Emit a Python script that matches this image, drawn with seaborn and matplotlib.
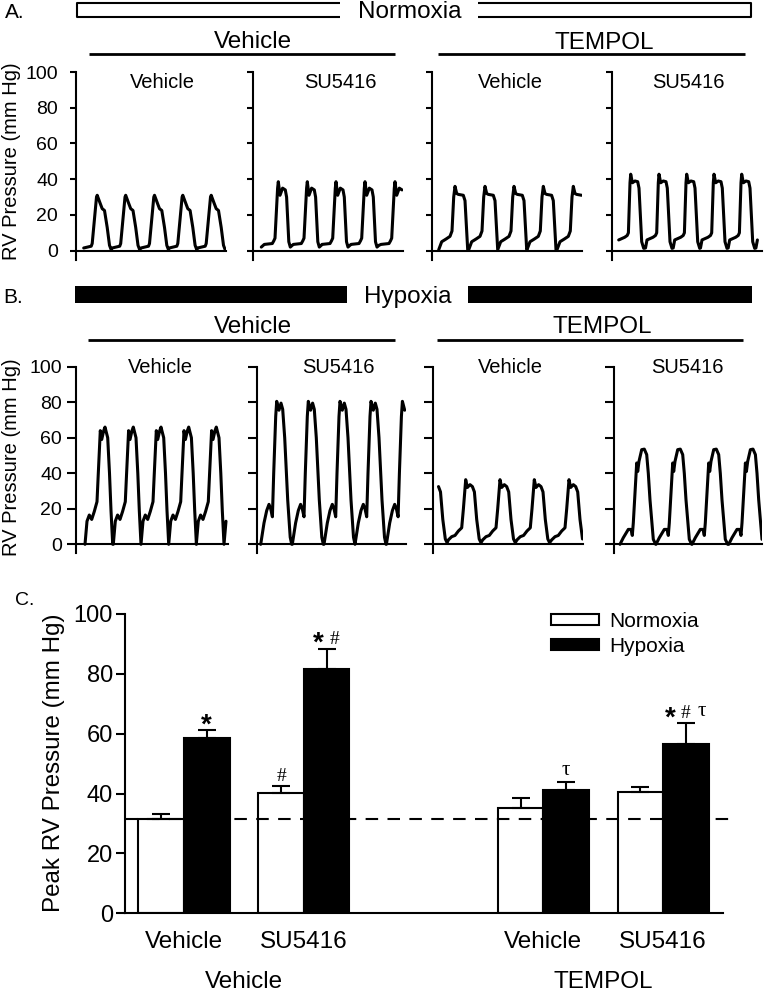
import numpy as np
import pandas as pd
import matplotlib
matplotlib.use("Agg")
import matplotlib.pyplot as plt
import matplotlib.transforms as mtransforms
from matplotlib.lines import Line2D
from matplotlib.patches import Rectangle, Patch
import seaborn as sns

sns.set_style("ticks", {"axes.edgecolor": "black", "xtick.color": "black",
                        "ytick.color": "black", "text.color": "black",
                        "axes.labelcolor": "black"})
plt.rcParams['font.family'] = ['Liberation Sans', 'DejaVu Sans']

#-----------------------------------------------------------------------------------
#   RV pressure traces (time = px from the y axis, pressure in mm Hg)
#   each trace = one beat shape, placed at each beat
#-----------------------------------------------------------------------------------

# A. Normoxia / Vehicle / Vehicle
nvv_peaks = [21.7, 50.2, 79.0, 107.3, 135.7]
nvv_beat_t = [-13.5, -6, -5, -0.7, 0, 3.3, 5, 7.3, 10, 12.3, 14]
nvv_beat_p = [1.5, 2.5, 4, 30, 31, 26, 23.5, 22.5, 13, 3, 0.5]
nvv_span = (7.7, 150.7)

# A. Normoxia / Vehicle / SU5416
nvs_peaks = [-3.4, 25.6, 54.6, 83.3, 112.3, 142.3]
nvs_beat_t = [-14, -6, -4.5, -3.3, -0.7, 0, 1.7, 4.3, 7, 8.3, 10.5, 12, 14]
nvs_beat_p = [3.5, 4, 5.5, 7, 35, 38.6, 31, 35, 34, 30, 5, 2, 3]
nvs_span = (7.3, 150.6)

# A. Normoxia / TEMPOL / Vehicle
ntv_peaks = [23.3, 53.3, 82.3, 111.6, 141.6]
ntv_beat_t = [-16.3, -13.3, -9, -5, -3, -1.3, 0, 1.7, 3.3, 8.3, 10, 12.7]
ntv_beat_p = [0.5, 5, 6.5, 8, 11, 30, 36, 32, 31.5, 31, 28, 0.5]
ntv_span = (6.3, 151.3)

# A. Normoxia / TEMPOL / SU5416
nts_peaks = [19.0, 47.3, 75.0, 102.3, 130.0, 157.7]
nts_beat_t = [-13.5, -12, -6, -3.5, -2.3, -0.7, 0, 1.7, 4.3, 7, 8.3, 11, 13]
nts_beat_p = [1.5, 6, 7.5, 8.5, 10, 38, 42.8, 38, 39, 38.6, 35, 5, 1.3]
nts_span = (6.5, 150)

# B. Hypoxia / Vehicle / Vehicle
hvv_peaks = [29.0, 57.3, 85.0, 112.7, 140.3, 168.0]
hvv_beat_t = [-20, -18, -15.7, -13.3, -10.7, -8, -6.7, -4.7, -3.3, -1.3, 0, 2.7, 4.5, 6, 7.7]
hvv_beat_p = [0, 13, 16.5, 14, 18.5, 24, 40, 64, 59, 64, 66, 60, 40, 19, 0]
hvv_span = (7.7, 151.7)

# B. Hypoxia / Vehicle / SU5416
hvs_peaks = [20.0, 51.6, 83.3, 114.3, 145.7]
hvs_beat_t = [-16, -12.7, -10, -7.7, -6, -4.3, -3, -1, 0, 2.3, 4.3, 6, 8, 11, 13.5, 15]
hvs_beat_p = [0, 12, 19, 22.5, 20, 15.5, 40, 72, 80.5, 75.5, 79.5, 76, 60, 25, 4, 0]
hvs_span = (4, 148.3)

# B. Hypoxia / TEMPOL / Vehicle
htv_peaks = [-1.5, 32.4, 66.7, 101.0, 135.7]
htv_beat_t = [-17.3, -14, -10.7, -7.3, -4, -2.3, 0, 1.7, 4.3, 6.7, 8.7, 11, 13.5, 15.3]
htv_beat_p = [2.5, 4.3, 5, 7.5, 9.3, 20, 36.4, 32, 33.6, 32.5, 29.5, 14, 3, 0.9]
htv_span = (4.5, 150)

# B. Hypoxia / TEMPOL / SU5416
hts_peaks = [29.0, 65.0, 101.0, 137.7]
hts_beat_t = [-23, -19.7, -14.7, -12, -10.7, -9.7, -6.3, -5.3, -4, -1.3, 1.3, 3.7, 5.3, 7, 10.3, 12.7]
hts_beat_p = [0, 3.7, 8.4, 8.4, 5, 12, 45.8, 41, 46.7, 53.3, 53.6, 50.5, 40, 25, 2.8, 0]
hts_span = (6, 149.3)

trace_titles = ['Vehicle', 'SU5416', 'Vehicle', 'SU5416']
pressure_ticks = [0, 20, 40, 60, 80, 100]

#-----------------------------------------------------------------------------------
#   C. peak RV pressure (mean, SEM)
#-----------------------------------------------------------------------------------
groups = ['Vehicle', 'SU5416', 'TEMPOL + Vehicle', 'TEMPOL + SU5416']
group_order = ['Vehicle', 'SU5416', '', 'TEMPOL + Vehicle', 'TEMPOL + SU5416']
tick_labels = ['Vehicle', 'SU5416', 'Vehicle', 'SU5416']
normoxia_mean = [31.5, 40.3, 35.2, 40.5]
normoxia_sem = [1.6, 2.2, 3.4, 1.8]
hypoxia_mean = [58.7, 81.5, 41.2, 56.5]
hypoxia_sem = [2.5, 6.8, 2.7, 7.0]
normoxia_marks = ['', '#', '', '']
hypoxia_marks = ['*', '* #', 'τ', '* # τ']
control_peak = 31.5

W, H = 767, 993
fig = plt.figure(figsize=(W / 100, H / 100), dpi=100)


def px_axes(x0, y0, w, h):
    return fig.add_axes([x0 / W, 1 - (y0 + h) / H, w / W, h / H])


def ftext(x, y, s, **kw):
    kw.setdefault('ha', 'center')
    kw.setdefault('va', 'baseline')
    fig.text(x / W, 1 - y / H, s, **kw)


def fline(xs, ys, lw=1.5):
    fig.add_artist(Line2D([x / W for x in xs], [1 - y / H for y in ys],
                          color='black', lw=lw, solid_capstyle='butt'))


def build(peaks, beat_t, beat_p, span):
    t = np.concatenate([np.asarray(beat_t) + pk for pk in peaks])
    p = np.tile(beat_p, len(peaks))
    keep = (t >= span[0]) & (t <= span[1])
    return t[keep], p[keep]


def trace_panel(x0, w, top, h, trace, show_labels, tick_len, tick_pad):
    ax = px_axes(x0, top, w, h)
    t, p = build(*trace)
    sns.lineplot(x=t, y=p, ax=ax, color='black', lw=2.2, sort=False, estimator=None)
    ax.set_xlim(0, w)
    ax.set_ylim(-5, 100)
    ax.set_yticks(pressure_ticks)
    ax.set_xticks([])
    ax.spines[['top', 'right']].set_visible(False)
    ax.spines['bottom'].set_position(('data', 0))
    for s in ax.spines.values():
        s.set_linewidth(1.5)
    ax.tick_params(axis='y', length=tick_len, width=1.5, pad=tick_pad, labelsize=14)
    if not show_labels:
        ax.set_yticklabels([])
    ax.set_xlabel('')
    ax.set_ylabel('')
    return ax


row_a = [(75.5, 150.5, (nvv_peaks, nvv_beat_t, nvv_beat_p, nvv_span)),
         (252.7, 150, (nvs_peaks, nvs_beat_t, nvs_beat_p, nvs_span)),
         (431.7, 150, (ntv_peaks, ntv_beat_t, ntv_beat_p, ntv_span)),
         (611.7, 150, (nts_peaks, nts_beat_t, nts_beat_p, nts_span))]
row_b = [(76, 152, (hvv_peaks, hvv_beat_t, hvv_beat_p, hvv_span)),
         (256.7, 149, (hvs_peaks, hvs_beat_t, hvs_beat_p, hvs_span)),
         (433.3, 150, (htv_peaks, htv_beat_t, htv_beat_p, htv_span)),
         (614, 148, (hts_peaks, hts_beat_t, hts_beat_p, hts_span))]

for i, (x0, w, tr) in enumerate(row_a):
    trace_panel(x0, w, 72, 187.6, tr, i == 0, 4.5, 8)
for i, (x0, w, tr) in enumerate(row_b):
    trace_panel(x0, w, 366.7, 186.5, tr, i == 0, 6.5, 3.5)

# titles inside trace panels
for x, s in zip([162, 340, 510, 688], trace_titles):
    ftext(x, 88.3, s, fontsize=14.5)
for x, s in zip([160.7, 338.3, 510, 687.5], trace_titles):
    ftext(x, 373.3, s, fontsize=14.5)

ftext(12, 161, 'RV Pressure (mm Hg)', fontsize=14.5, rotation=90, va='center')
ftext(12, 457, 'RV Pressure (mm Hg)', fontsize=14.5, rotation=90, va='center')

# A header
ftext(5, 18, 'A.', ha='left', fontsize=15)
ftext(409.5, 18.3, 'Normoxia', fontsize=17.5)
fline([340, 77.3, 77.3, 340], [3, 3, 17, 17])
fline([478, 751, 751, 478], [3, 3, 17, 17])
ftext(253, 48.3, 'Vehicle', fontsize=17.5)
fline([89.3, 395], [54, 54], lw=2)
ftext(604, 49, 'TEMPOL', fontsize=17.5)
fline([438.3, 745], [54, 54], lw=2)

# B header
ftext(3.3, 303, 'B.', ha='left', fontsize=15)
for x0, x1 in [(75, 346.7), (468.3, 751.7)]:
    fig.add_artist(Rectangle((x0 / W, 1 - 303.3 / H), (x1 - x0) / W, 17.3 / H,
                             transform=fig.transFigure, facecolor='black',
                             edgecolor='none'))
ftext(407.5, 303.3, 'Hypoxia', fontsize=17.5)
ftext(253, 333.3, 'Vehicle', fontsize=17.5)
fline([88.3, 395], [340, 340], lw=2)
ftext(602.5, 333.3, 'TEMPOL', fontsize=17.5)
fline([436.7, 743.3], [340, 340], lw=2)

#-----------------------------------------------------------------------------------
#   C. bar chart
#-----------------------------------------------------------------------------------
df = pd.DataFrame({
    'group': groups * 2,
    'condition': ['Normoxia'] * 4 + ['Hypoxia'] * 4,
    'pressure': normoxia_mean + hypoxia_mean,
})

axc = px_axes(125.3, 614, 597.8, 299.3)
sns.barplot(data=df, x='group', y='pressure', hue='condition', order=group_order,
            hue_order=['Normoxia', 'Hypoxia'],
            palette={'Normoxia': 'white', 'Hypoxia': 'black'},
            edgecolor='black', linewidth=1.5, width=0.76, saturation=1,
            errorbar=None, legend=False, ax=axc)

for cont, means, sems, marks in zip(axc.containers,
                                     [normoxia_mean, hypoxia_mean],
                                     [normoxia_sem, hypoxia_sem],
                                     [normoxia_marks, hypoxia_marks]):
    bars = [b for b in cont if np.isfinite(b.get_height()) and b.get_height() > 0]
    bars = sorted(bars, key=lambda b: b.get_x())
    xs = [b.get_x() + b.get_width() / 2 for b in bars]
    axc.errorbar(xs, means, yerr=[np.zeros(len(means)), sems], fmt='none',
                 ecolor='black', elinewidth=1.5, capsize=6.5, capthick=1.5, zorder=1)
    for x, m, s, mk in zip(xs, means, sems, marks):
        syms = mk.split()
        for j, sym in enumerate(syms):
            dx = (j - (len(syms) - 1) / 2) * 11.5
            if sym == '*':
                axc.annotate(sym, (x, m + s), xytext=(dx, -1.5), textcoords='offset points',
                             ha='center', va='baseline', fontsize=20, fontweight='bold')
            elif sym == '#':
                axc.annotate(sym, (x, m + s), xytext=(dx, 3.5), textcoords='offset points',
                             ha='center', va='baseline', fontsize=14,
                             family='Liberation Serif')
            else:
                axc.annotate(sym, (x, m + s), xytext=(dx, 5), textcoords='offset points',
                             ha='center', va='baseline', fontsize=15,
                             family='Liberation Serif')

axc.plot([-0.49, 4.56], [control_peak, control_peak], color='black', lw=1.5,
         linestyle=(0, (6, 4.5)), clip_on=False, zorder=3)

axc.set_xlim(-0.49, 4.5)
axc.set_ylim(0, 100)
axc.set_yticks(pressure_ticks)
axc.set_xticks([0, 1, 3, 4], tick_labels)
axc.spines[['top', 'right']].set_visible(False)
for s in axc.spines.values():
    s.set_linewidth(1.5)
axc.tick_params(axis='x', length=0, pad=12.5, labelsize=17.5)
axc.tick_params(axis='y', length=6.5, width=1.5, pad=2.5, labelsize=17)
axc.set_xlabel('')
axc.set_ylabel('')

blend = mtransforms.blended_transform_factory(axc.transData, fig.transFigure)
axc.text(0.5, 1 - 988.3 / H, 'Vehicle', transform=blend, ha='center', va='baseline', fontsize=17.5)
axc.text(3.5, 1 - 988.3 / H, 'TEMPOL', transform=blend, ha='center', va='baseline', fontsize=17.5)

ftext(15, 605, 'C.', ha='left', fontsize=14)
ftext(54, 763, 'Peak RV Pressure (mm Hg)', fontsize=17.4, rotation=90, va='center')

handles = [Patch(facecolor='white', edgecolor='black', lw=1.5),
           Patch(facecolor='black', edgecolor='black', lw=1.5)]
axc.legend(handles, ['Normoxia', 'Hypoxia'], loc='upper left',
           bbox_to_anchor=(551 / W, 1 - 612 / H), bbox_transform=fig.transFigure,
           frameon=False, fontsize=15, borderpad=0, borderaxespad=0,
           handlelength=2.3, handleheight=0.45, handletextpad=0.5, labelspacing=0.3)

fig.savefig('out.png', dpi=100)
